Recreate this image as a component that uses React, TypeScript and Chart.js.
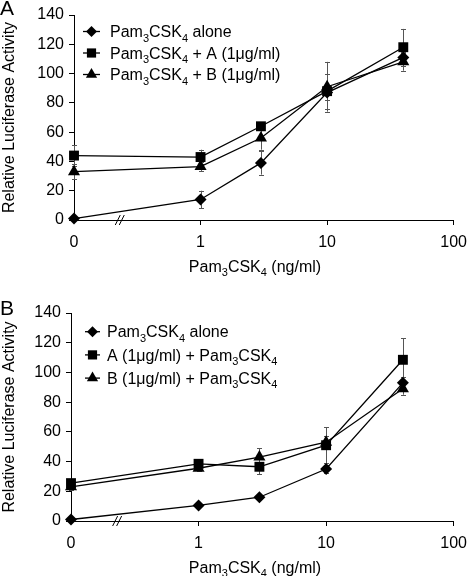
import React, { useEffect, useRef } from "react";
import { Chart, registerables } from "chart.js";

Chart.register(...registerables);

const FONT = "'Liberation Sans', Arial, Helvetica, sans-serif";
Chart.defaults.font.family = FONT;
Chart.defaults.color = "#000";

// ---- data ----
const doses = [0, 1, 3, 10, 40];
const ZERO_AT = 0.1; // position of dose 0 on the broken log axis
const xTickValues = [0.1, 1, 10, 100];
const xTickLabels = ["0", "1", "10", "100"];
const xTitle = "Pam₃CSK₄ (ng/ml)";
const yTitle = "Relative Luciferase Activity";

const labelsA = ["Pam₃CSK₄ alone", "Pam₃CSK₄ + A (1μg/ml)", "Pam₃CSK₄ + B (1μg/ml)"];
const aloneA = [1, 14, 39, 87, 111];
const aloneErrA = [1, 6, 8, 5, 4];
const withA_A = [44, 43, 64, 88, 118];
const withA_ErrA = [7, 5, 2, 12, 12.5];
const withB_A = [33, 36.5, 56, 91, 108];
const withB_ErrA = [5, 3, 8, 17, 6];

const labelsB = ["Pam₃CSK₄ alone", "A (1μg/ml) + Pam₃CSK₄", "B (1μg/ml) + Pam₃CSK₄"];
const aloneB = [1, 10.5, 16, 35, 93];
const aloneErrB = [1, 1, 1.5, 3, 4];
const withA_B = [25.5, 38.5, 36.5, 51, 108.5];
const withA_ErrB = [2, 2, 5, 12, 14.5];
const withB_B = [23, 35.5, 43, 53, 89];
const withB_ErrB = [2, 2, 6, 4, 4];

const markerStyles = ["rectRot", "rect", "triangle"];
const markerRadii = [6, 7, 7];

type Spec = {
  letter: string;
  labels: string[];
  values: number[][];
  errors: number[][];
  left: number;
  top: number;
  xHeight: number;
  legendY: number;
  legendGap: number;
  legendLine: [number, number];
  legendTextX: number;
  letterBaseline: number;
};

const panelA: Spec = {
  letter: "A",
  labels: labelsA,
  values: [aloneA, withA_A, withB_A],
  errors: [aloneErrA, withA_ErrA, withB_ErrA],
  left: 74,
  top: 15,
  xHeight: 68,
  legendY: 31.5,
  legendGap: 21.5,
  legendLine: [83, 100],
  legendTextX: 110,
  letterBaseline: 15,
};

const panelB: Spec = {
  letter: "B",
  labels: labelsB,
  values: [aloneB, withA_B, withB_B],
  errors: [aloneErrB, withA_ErrB, withB_ErrB],
  left: 71,
  top: 25,
  xHeight: 55,
  legendY: 43.7,
  legendGap: 23.2,
  legendLine: [85, 100],
  legendTextX: 107,
  letterBaseline: 27,
};

const SUBS = "₀₁₂₃₄₅₆₇₈₉";

function drawRich(ctx: CanvasRenderingContext2D, text: string, x: number, yCenter: number, size: number, align: "left" | "center") {
  const segs: { t: string; sub: boolean }[] = [];
  for (const ch of text) {
    const idx = SUBS.indexOf(ch);
    const sub = idx >= 0;
    const c = sub ? String(idx) : ch;
    const last = segs[segs.length - 1];
    if (last && last.sub === sub) last.t += c;
    else segs.push({ t: c, sub });
  }
  const subSize = Math.round(size * 0.68);
  const fN = `${size}px ${FONT}`;
  const fS = `${subSize}px ${FONT}`;
  let total = 0;
  for (const s of segs) {
    ctx.font = s.sub ? fS : fN;
    total += ctx.measureText(s.t).width;
  }
  let cx = align === "center" ? x - total / 2 : x;
  const base = yCenter + size * 0.36;
  ctx.textBaseline = "alphabetic";
  ctx.textAlign = "left";
  ctx.fillStyle = "#000";
  for (const s of segs) {
    ctx.font = s.sub ? fS : fN;
    ctx.fillText(s.t, cx, s.sub ? base + size * 0.28 : base);
    cx += ctx.measureText(s.t).width;
  }
}

function drawMarker(ctx: CanvasRenderingContext2D, style: string, x: number, y: number, r: number) {
  ctx.beginPath();
  if (style === "rectRot") {
    ctx.moveTo(x, y - r);
    ctx.lineTo(x + r, y);
    ctx.lineTo(x, y + r);
    ctx.lineTo(x - r, y);
  } else if (style === "rect") {
    const s = r * Math.SQRT1_2;
    ctx.rect(x - s, y - s, 2 * s, 2 * s);
  } else {
    for (let k = 0; k < 3; k++) {
      const a = (k * 2 * Math.PI) / 3;
      const px = x + Math.sin(a) * r;
      const py = y - Math.cos(a) * r;
      if (k === 0) ctx.moveTo(px, py);
      else ctx.lineTo(px, py);
    }
  }
  ctx.closePath();
  ctx.fillStyle = "#000";
  ctx.fill();
}

function makeConfig(p: Spec): any {
  const extras = {
    id: "extras",
    beforeDatasetsDraw(chart: any) {
      const ctx: CanvasRenderingContext2D = chart.ctx;
      const yS = chart.scales.y;
      ctx.save();
      ctx.strokeStyle = "#555";
      ctx.lineWidth = 1;
      p.errors.forEach((errs, di) => {
        const meta = chart.getDatasetMeta(di);
        errs.forEach((e, j) => {
          const pt = meta.data[j];
          const v = p.values[di][j];
          const x = Math.round(pt.x) + 0.5;
          const y1 = yS.getPixelForValue(v + e);
          const y2 = yS.getPixelForValue(v - e);
          ctx.beginPath();
          ctx.moveTo(x, y1);
          ctx.lineTo(x, y2);
          ctx.moveTo(x - 2.5, Math.round(y1) + 0.5);
          ctx.lineTo(x + 2.5, Math.round(y1) + 0.5);
          ctx.moveTo(x - 2.5, Math.round(y2) + 0.5);
          ctx.lineTo(x + 2.5, Math.round(y2) + 0.5);
          ctx.stroke();
        });
      });
      ctx.restore();
    },
    afterDraw(chart: any) {
      const ctx: CanvasRenderingContext2D = chart.ctx;
      const area = chart.chartArea;
      const xS = chart.scales.x;
      ctx.save();
      // legend
      p.labels.forEach((lab, i) => {
        const y = p.legendY + i * p.legendGap;
        ctx.strokeStyle = "#000";
        ctx.lineWidth = 1.3;
        ctx.beginPath();
        ctx.moveTo(p.legendLine[0], y);
        ctx.lineTo(p.legendLine[1], y);
        ctx.stroke();
        drawMarker(ctx, markerStyles[i], (p.legendLine[0] + p.legendLine[1]) / 2, y, markerRadii[i] - 0.5);
        drawRich(ctx, lab, p.legendTextX, y, 16, "left");
      });
      // x title
      drawRich(ctx, xTitle, 255, area.bottom + 46, 16, "center");
      // panel letter
      ctx.font = `21px ${FONT}`;
      ctx.fillStyle = "#000";
      ctx.textAlign = "left";
      ctx.textBaseline = "alphabetic";
      ctx.fillText(p.letter, 0, p.letterBaseline);
      // axis break
      const bx = xS.getPixelForValue(0.23);
      const by = area.bottom;
      ctx.strokeStyle = "#000";
      ctx.lineWidth = 1;
      [-2, 2].forEach((o) => {
        ctx.beginPath();
        ctx.moveTo(bx + o - 2.5, by + 5);
        ctx.lineTo(bx + o + 2.5, by - 5);
        ctx.stroke();
      });
      ctx.restore();
    },
  };

  return {
    type: "line",
    data: {
      datasets: p.values.map((vals, i) => ({
        label: p.labels[i],
        data: doses.map((d, j) => ({ x: d === 0 ? ZERO_AT : d, y: vals[j] })),
        borderColor: "#000",
        backgroundColor: "#000",
        borderWidth: 1.3,
        pointStyle: markerStyles[i],
        pointRadius: markerRadii[i],
        pointBorderWidth: 0,
        pointBackgroundColor: "#000",
        tension: 0,
        clip: false,
      })),
    },
    options: {
      animation: false,
      responsive: false,
      devicePixelRatio: 1,
      events: [],
      layout: { padding: { top: p.top, right: 14, left: 0, bottom: 0 } },
      plugins: { legend: { display: false }, tooltip: { enabled: false } },
      scales: {
        x: {
          type: "logarithmic",
          min: 0.1,
          max: 100,
          afterBuildTicks: (s: any) => {
            s.ticks = xTickValues.map((v) => ({ value: v }));
          },
          afterFit: (s: any) => {
            s.height = p.xHeight;
          },
          ticks: {
            autoSkip: false,
            maxRotation: 0,
            padding: 8,
            color: "#000",
            font: { size: 16 },
            callback: (_v: any, i: number) => xTickLabels[i],
          },
          grid: {
            drawOnChartArea: false,
            tickLength: 5,
            color: (c: any) => (c.index === 0 ? "rgba(0,0,0,0)" : "#000"),
          },
          border: { display: true, color: "#000", width: 1 },
        },
        y: {
          min: 0,
          max: 140,
          afterFit: (s: any) => {
            s.width = p.left;
          },
          ticks: { stepSize: 20, padding: 5, color: "#000", font: { size: 16 } },
          grid: { drawOnChartArea: false, tickLength: 5, color: "#000" },
          border: { display: true, color: "#000", width: 1 },
          title: { display: true, text: yTitle, color: "#000", font: { size: 16 }, padding: 0 },
        },
      },
    },
    plugins: [extras],
  };
}

function Panel({ spec }: { spec: Spec }) {
  const ref = useRef<HTMLCanvasElement>(null);
  useEffect(() => {
    const chart = new Chart(ref.current as HTMLCanvasElement, makeConfig(spec));
    return () => chart.destroy();
  }, [spec]);
  return <canvas ref={ref} width={475} height={288} style={{ display: "block", width: 475, height: 288 }} />;
}

export default function App() {
  return (
    <div style={{ position: "absolute", left: 0, top: 0, width: 475, height: 576, background: "#fff" }}>
      <Panel spec={panelA} />
      <Panel spec={panelB} />
    </div>
  );
}
